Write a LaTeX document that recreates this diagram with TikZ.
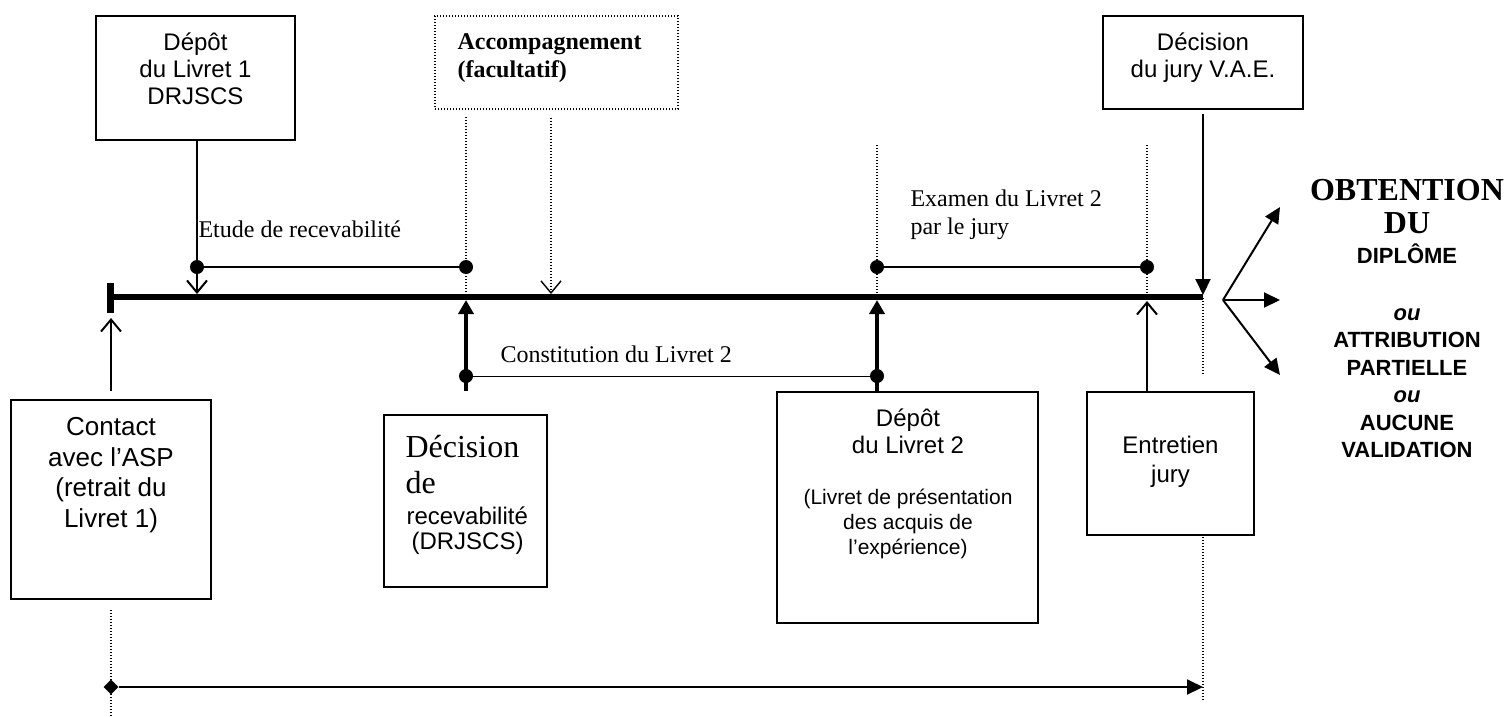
\documentclass[tikz,border=0pt]{standalone}
\usepackage{fontspec}
\setmainfont{Liberation Sans}
\newfontfamily\timesfont{Liberation Serif}
\usetikzlibrary{arrows.meta,shapes.geometric}

\begin{document}
\begin{tikzpicture}[x=1pt,y=-1pt,
  box/.style={draw,line width=1.8pt,fill=white,inner sep=0pt},
  evdot/.style={circle,fill=black,inner sep=0pt,minimum size=14pt},
  guide/.style={line width=1.4pt,dash pattern=on 1.4pt off 1.6pt},
  opentip/.style={-{Straight Barb[length=12pt,width=20pt,line width=2pt]}},
  fulltip/.style={-{Triangle[length=16pt,width=15pt]}},
  arial/.style={font=\fontsize{24}{27}\selectfont,align=center},
  roman/.style={font=\timesfont\fontsize{24}{28}\selectfont,align=left}]

  \useasboundingbox (0,0) rectangle (1508,716);

  % Guides
  \draw[guide] (466,117) to (466,297);
  \draw[guide] (877,145) to (877,297);
  \draw[guide] (1147,145) to (1147,297);
  \draw[guide] (1203,298) to (1203,375);
  \draw[guide] (1203,537) to (1203,700);
  \draw[guide] (111,610) to (111,716);

  % Boxes
  \node[box,minimum width=199pt,minimum height=124pt] (BoxDepotA) at (195.5,78) {};
  \node[box,line width=1.4pt,dash pattern=on 1.4pt off 1.6pt,minimum width=243pt,minimum height=93pt] (BoxAccomp) at (556.5,62.5) {};
  \node[box,minimum width=200pt,minimum height=93pt] (BoxJury) at (1203,62.5) {};
  \node[box,minimum width=200pt,minimum height=199pt] (BoxContact) at (111,499.5) {};
  \node[box,minimum width=163pt,minimum height=172pt] (BoxDecision) at (465.5,501) {};
  \node[box,minimum width=261pt,minimum height=231pt] (BoxDepotB) at (907.5,507.5) {};
  \node[box,minimum width=167pt,minimum height=143pt] (BoxEntretien) at (1170.5,463.5) {};

  % Box texts
  \node[arial] (TxtDepotA) at (195.5,69) {Dépôt\\du Livret 1\\DRJSCS};
  \node[roman,font=\timesfont\bfseries\fontsize{24}{28}\selectfont,anchor=west] (TxtAccomp) at (454,58.5) {Accompagnement\\(facultatif)};
  \node[arial] (TxtJury) at (1203,58) {Décision\\du jury V.A.E.};
  \node[arial,font=\fontsize{26}{30.5}\selectfont] (TxtContact) at (111,475) {Contact\\avec l’ASP\\(retrait du\\Livret 1)};
  \node[roman,font=\timesfont\fontsize{32}{36.5}\selectfont,anchor=west] (TxtDecisionA) at (402,464.5) {Décision\\de};
  \node[arial,font=\fontsize{24}{25}\selectfont,align=left,anchor=west] (TxtDecisionB) at (403,531) {recevabilité\\\hspace*{5pt}(DRJSCS)};
  \node[arial] (TxtDepotB) at (908,431) {Dépôt\\du Livret 2};
  \node[arial,font=\fontsize{21}{25}\selectfont] (TxtLivret) at (908,524) {(Livret de présentation\\des acquis de\\l’expérience)};
  \node[arial,font=\fontsize{24}{29}\selectfont] (TxtEntretien) at (1170.5,462) {Entretien\\jury};

  % Timeline
  \coordinate (LineStart) at (110,297);
  \coordinate (LineEnd) at (1203,297);
  \draw[line width=6pt] (LineStart) to (LineEnd);
  \draw[line width=7pt] (110,283) to (110,313);

  % Periods
  \node[evdot] (EtudeA) at (197,267) {};
  \node[evdot] (EtudeB) at (466,267) {};
  \node[evdot] (ConstA) at (466,376) {};
  \node[evdot] (ConstB) at (877,376) {};
  \node[evdot] (ExamA) at (877,267) {};
  \node[evdot] (ExamB) at (1147,267) {};
  \draw[line width=2pt] (EtudeA) to (EtudeB);
  \draw[line width=1pt] (ConstA) to (ConstB);
  \draw[line width=1.5pt] (ExamA) to (ExamB);

  \node[roman,anchor=base west] (TxtEtude) at (195,237) {Etude de recevabilité};
  \node[roman,anchor=base west] (TxtConst) at (497,362) {Constitution du Livret 2};
  \node[roman,anchor=west] (TxtExamen) at (907,215) {Examen du Livret 2\\par le jury};

  % Arrows to the timeline
  \coordinate (TipEtude) at (197,294);
  \coordinate (TipAccomp) at (551,294);
  \coordinate (TipJury) at (1203,295);
  \coordinate (TipContact) at (111,318);
  \coordinate (TipEntretien) at (1147,301);
  \coordinate (TipDecision) at (466,300);
  \coordinate (TipDepotB) at (877,300);

  \draw[opentip,line width=2pt] (BoxDepotA.south -| EtudeA) to (TipEtude);
  \draw[guide,-{Straight Barb[length=12pt,width=20pt,line width=1.4pt]},shorten <=8pt] (BoxAccomp.south -| TipAccomp) to (TipAccomp);
  \draw[fulltip,line width=2pt,shorten <=4pt] (BoxJury.south) to (TipJury);
  \draw[opentip,line width=2pt,shorten <=8pt] (BoxContact.north) to (TipContact);
  \draw[opentip,line width=2pt] (BoxEntretien.north -| ExamB) to (TipEntretien);
  \draw[-{Triangle[length=14pt,width=15pt]},line width=4pt,shorten <=23pt] (BoxDecision.north -| ConstA) to (TipDecision);
  \draw[-{Triangle[length=14pt,width=15pt]},line width=4pt] (BoxDepotB.north -| ConstB) to (TipDepotB);

  % Outcomes
  \coordinate (FanRoot) at (1223,300);
  \coordinate (FanUp) at (1280,207);
  \coordinate (FanMid) at (1280,300);
  \coordinate (FanDown) at (1280,375);
  \draw[fulltip,line width=2pt] (FanRoot) to (FanUp);
  \draw[fulltip,line width=2pt] (FanRoot) to (FanMid);
  \draw[fulltip,line width=2pt] (FanRoot) to (FanDown);

  \node[font=\timesfont\bfseries\fontsize{32}{33}\selectfont,align=center] (TxtObtention) at (1407,207) {OBTENTION\\DU};
  \node[font=\bfseries\fontsize{22}{27.5}\selectfont,align=center] (TxtResult) at (1407,351) {DIPLÔME\\[29pt]\textit{ou}\\ATTRIBUTION\\PARTIELLE\\\textit{ou}\\AUCUNE\\VALIDATION};

  % Total duration
  \node[diamond,fill=black,inner sep=0pt,minimum size=15pt] (SpanStart) at (111,687) {};
  \coordinate (SpanEnd) at (1203,687);
  \draw[fulltip,line width=2pt] (SpanStart) to (SpanEnd);

\end{tikzpicture}
\end{document}
